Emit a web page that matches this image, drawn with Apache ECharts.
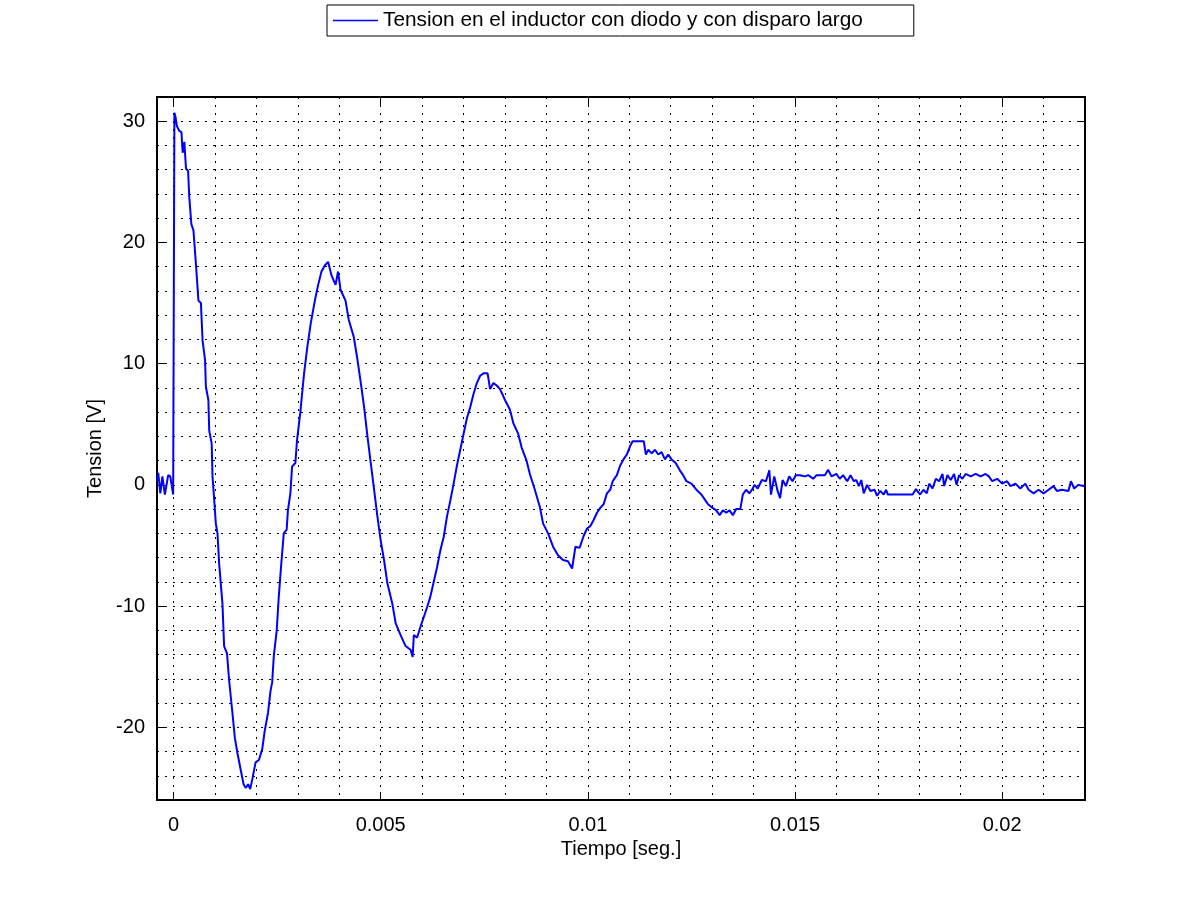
<!DOCTYPE html>
<html>
<head>
<meta charset="utf-8">
<script src="https://cdn.jsdelivr.net/npm/echarts@6/dist/echarts.min.js"></script>
<style>
html,body{margin:0;padding:0;background:#fff;}
#chart{width:1200px;height:900px;}
</style>
</head>
<body>
<div id="chart"></div>
<script>
// Time in seconds
var timeS = [
-0.0004,-0.00037,-0.00032,-0.00027,-0.00021,-0.00013,-0.00008,-0.00001,0.00002,0.00005,
0.00008,0.00014,0.00019,0.00022,0.00026,0.0003,0.00035,0.00038,0.00043,0.00048,
0.00054,0.0006,0.00066,0.0007,0.00076,0.00078,0.00084,0.00086,0.00092,0.00094,
0.00098,0.00102,0.00106,0.0011,0.00118,0.00122,0.00129,0.00134,0.00142,0.00148,
0.00154,0.00162,0.00169,0.00174,0.0018,0.00185,0.0019,0.00198,0.00206,0.00214,
0.0022,0.00228,0.00234,0.00238,0.00242,0.00249,0.00254,0.0026,0.00266,0.00273,
0.00276,0.00282,0.00286,0.00294,0.00298,0.00306,0.00315,0.00323,0.00331,0.00341,
0.00349,0.00357,0.00365,0.00373,0.00381,0.00391,0.00397,0.00403,0.00415,0.00423,
0.00435,0.00444,0.00452,0.0046,0.00468,0.00476,0.00484,0.00492,0.005,0.00508,
0.00516,0.00528,0.00536,0.00548,0.0056,0.00572,0.00577,0.0058,0.00588,0.00596,
0.00604,0.00612,0.0062,0.00628,0.00636,0.00644,0.00652,0.0066,0.00668,0.00676,
0.00684,0.00692,0.007,0.00708,0.00716,0.00724,0.00732,0.0074,0.00748,0.00758,
0.00764,0.00772,0.0078,0.00788,0.008,0.00812,0.0082,0.00832,0.0084,0.00852,
0.0086,0.00872,0.00884,0.00892,0.00904,0.00916,0.00928,0.0094,0.00952,0.00962,
0.0097,0.0098,0.0099,0.00998,0.01006,0.01014,0.01022,0.0103,0.01038,0.01046,
0.01054,0.0106,0.0107,0.01078,0.01086,0.01094,0.01102,0.01108,0.01135,0.0114,
0.01146,0.01154,0.01162,0.0117,0.01178,0.01186,0.01194,0.01202,0.01212,0.01222,
0.0123,0.01238,0.0125,0.01262,0.01274,0.01282,0.0129,0.01301,0.0131,0.01318,
0.01326,0.01334,0.01342,0.0135,0.01358,0.01368,0.01374,0.01382,0.0139,0.01398,
0.01402,0.0141,0.0142,0.0143,0.01438,0.01442,0.0145,0.01458,0.01464,0.0147,
0.01478,0.01486,0.01494,0.01502,0.01512,0.01524,0.01532,0.01544,0.01552,0.01572,
0.0158,0.01588,0.016,0.01608,0.01616,0.01626,0.01634,0.01642,0.01648,0.01654,
0.0166,0.01666,0.01674,0.01682,0.01692,0.01698,0.01706,0.01714,0.0172,0.01724,
0.01784,0.01792,0.01802,0.0181,0.01818,0.01824,0.01832,0.0184,0.01848,0.01856,
0.0186,0.01868,0.01876,0.01884,0.0189,0.01896,0.01904,0.01912,0.01924,0.01936,
0.01948,0.0196,0.01968,0.01976,0.01988,0.02,0.02012,0.0202,0.02032,0.02044,
0.02056,0.02064,0.02076,0.02088,0.021,0.02112,0.02124,0.02132,0.02144,0.0216,
0.02166,0.02174,0.02184,0.02196,0.022
];
// Tension in volts
var tensionV = [
0.3,1.0,-0.7,0.7,-0.8,0.8,0.7,-0.8,30.7,30.3,
29.6,29.2,29.1,27.4,28.3,26.1,25.9,23.7,21.5,21.0,
18.2,15.2,15.0,11.9,10.3,8.1,7.0,4.5,3.4,0.7,
-1.2,-3.2,-4.0,-6.5,-9.8,-13.3,-13.9,-16.1,-18.8,-20.9,
-22.1,-23.5,-24.7,-25.0,-24.7,-25.1,-24.3,-22.9,-22.7,-21.8,
-20.3,-18.8,-17.0,-16.3,-14.1,-12.0,-9.2,-6.5,-4.0,-3.7,
-2.1,-0.7,1.5,1.8,3.7,6.0,9.2,11.4,13.3,15.2,
16.5,17.6,18.1,18.4,17.3,16.5,17.6,16.1,15.2,13.6,
12.2,10.3,8.4,6.4,4.0,1.8,-0.4,-2.6,-4.6,-6.2,
-8.1,-9.8,-11.4,-12.4,-13.3,-13.6,-14.2,-12.4,-12.6,-11.7,
-10.9,-10.1,-9.2,-8.0,-6.8,-5.4,-4.3,-2.6,-1.3,0.1,
1.6,2.9,4.2,5.5,6.4,7.5,8.4,9.0,9.2,9.2,
7.9,8.4,8.2,7.9,7.0,6.2,5.1,4.2,3.1,2.0,
0.9,-0.4,-1.8,-3.2,-4.0,-5.1,-5.8,-6.2,-6.3,-6.9,
-5.1,-5.2,-4.2,-3.6,-3.4,-2.9,-2.3,-1.9,-1.6,-0.7,
-0.4,0.3,0.8,1.6,2.1,2.5,3.2,3.6,3.6,2.5,
2.9,2.6,2.9,2.5,2.7,2.1,2.5,2.1,1.8,1.2,
0.8,0.3,0.1,-0.4,-0.8,-1.2,-1.6,-1.9,-2.1,-2.5,
-2.1,-2.3,-2.1,-2.5,-2.0,-2.0,-0.8,-0.4,-0.7,-0.3,
0,-0.3,0.4,0.3,1.2,-0.8,0.7,-0.5,-1.1,0.4,
-0.1,0.7,0.3,0.8,0.8,0.7,0.8,0.5,0.8,0.8,
1.25,0.7,0.9,0.5,0.8,0.3,0.8,0.3,0.4,-0.1,
0.4,-0.7,0,-0.5,-0.4,-0.9,-0.5,-0.8,-0.4,-0.8,
-0.8,-0.35,-0.8,-0.4,-0.7,0.1,-0.3,0.5,0.3,0.9,
-0.1,0.8,0.4,0.9,0,0.8,0.5,0.9,0.7,0.9,
0.7,0.9,0.7,0.3,0.5,0.1,0.3,-0.1,0.1,-0.3,
0.1,-0.4,-0.7,-0.4,-0.7,-0.4,-0.1,-0.5,-0.4,-0.5,
0.3,-0.3,0,-0.1,0
];
var xLabelValues = [0, 0.005, 0.01, 0.015, 0.02];
var xGridValues = [0.001,0.002,0.003,0.004,0.005,0.006,0.007,0.008,0.009,0.01,0.011,0.012,0.013,0.014,0.015,0.016,0.017,0.018,0.019,0.02,0.021];
var xGridAll = [0].concat(xGridValues);
var yLabelValues = [-20, -10, 0, 10, 20, 30];
var seriesName = 'Tension en el inductor con diodo y con disparo largo';

var FONT = "'Liberation Sans', Arial, sans-serif";
var data = timeS.map(function (t, i) { return [t, tensionV[i]]; });
var X_MIN = -0.0004, X_MAX = 0.022, Y_MIN = -26, Y_MAX = 32;

var dotted = { color: '#000', width: 1, type: [2, 6] };

var chart = echarts.init(document.getElementById('chart'), null, { renderer: 'canvas' });
chart.setOption({
  animation: false,
  backgroundColor: '#fff',
  legend: {
    left: 327, top: 5,
    data: [seriesName],
    icon: 'rect',
    itemWidth: 45, itemHeight: 1.5,
    itemGap: 5,
    padding: [5, 51, 5, 6],
    borderColor: '#000', borderWidth: 1,
    backgroundColor: '#fff',
    textStyle: { fontFamily: FONT, fontSize: 20.8, color: '#000', padding: [0, 0, 0, 0] },
    selectedMode: false
  },
  grid: { left: 157, right: 115, top: 97, bottom: 100, containLabel: false },
  xAxis: [
    {
      type: 'value', position: 'bottom', min: X_MIN, max: X_MAX,
      name: 'Tiempo [seg.]', nameLocation: 'middle', nameGap: 38,
      nameTextStyle: { fontFamily: FONT, fontSize: 20, color: '#000' },
      axisLine: { show: true, onZero: false, lineStyle: { color: '#000', width: 2 } },
      axisTick: { show: false, customValues: xGridAll },
      axisLabel: { customValues: xLabelValues, fontFamily: FONT, fontSize: 20, color: '#000', margin: 15,
                   formatter: function (v) { return String(+v.toFixed(4)); } },
      splitLine: { show: true, lineStyle: dotted }
    },
    {
      type: 'value', position: 'top', min: X_MIN, max: X_MAX,
      axisLine: { show: true, onZero: false, lineStyle: { color: '#000', width: 2 } },
      axisTick: { show: true, inside: true, length: 8, customValues: xLabelValues, lineStyle: { color: '#000', width: 1 } },
      axisLabel: { show: false },
      splitLine: { show: false }
    },
    {
      type: 'value', position: 'bottom', min: X_MIN, max: X_MAX,
      axisLine: { show: false, onZero: false },
      axisTick: { show: true, inside: true, length: 8, customValues: xLabelValues, lineStyle: { color: '#000', width: 1 } },
      axisLabel: { show: false },
      splitLine: { show: false }
    }
  ],
  yAxis: [
    {
      type: 'value', position: 'left', min: Y_MIN, max: Y_MAX, interval: 2,
      name: 'Tension [V]', nameLocation: 'middle', nameGap: 49,
      nameTextStyle: { fontFamily: FONT, fontSize: 20, color: '#000' },
      axisLine: { show: true, onZero: false, lineStyle: { color: '#000', width: 2 } },
      axisTick: { show: false },
      axisLabel: { customValues: yLabelValues, fontFamily: FONT, fontSize: 20, color: '#000', margin: 12 },
      splitLine: { show: true, lineStyle: dotted }
    },
    {
      type: 'value', position: 'right', min: Y_MIN, max: Y_MAX, interval: 2,
      axisLine: { show: true, onZero: false, lineStyle: { color: '#000', width: 2 } },
      axisTick: { show: true, inside: true, length: 8, customValues: yLabelValues, lineStyle: { color: '#000', width: 1 } },
      axisLabel: { show: false },
      splitLine: { show: false }
    },
    {
      type: 'value', position: 'left', min: Y_MIN, max: Y_MAX, interval: 2,
      axisLine: { show: false, onZero: false },
      axisTick: { show: true, inside: true, length: 8, customValues: yLabelValues, lineStyle: { color: '#000', width: 1 } },
      axisLabel: { show: false },
      splitLine: { show: false }
    }
  ],
  series: [{
    name: seriesName,
    type: 'line',
    xAxisIndex: 0, yAxisIndex: 0,
    data: data,
    showSymbol: false,
    symbol: 'none',
    clip: true,
    lineStyle: { color: '#0000ff', width: 2 },
    itemStyle: { color: '#0000ff' },
    z: 5
  }]
});
</script>
</body>
</html>
